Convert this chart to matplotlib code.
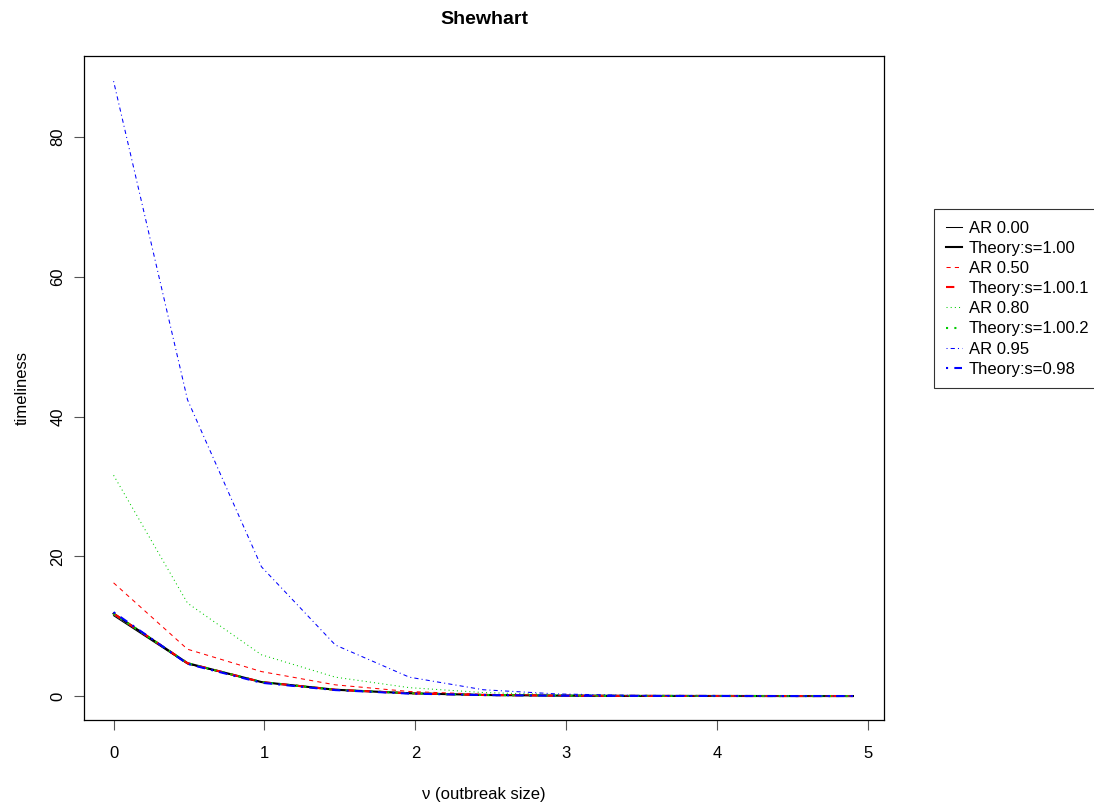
import matplotlib
matplotlib.use("Agg")
import matplotlib.pyplot as plt

plt.rcParams['font.family'] = ['Liberation Sans', 'DejaVu Sans']
plt.rcParams['font.size'] = 12

# outbreak size grid
nu = [0.0, 0.49, 0.98, 1.47, 1.96, 2.45, 2.94, 3.43, 3.92, 4.41, 4.90]

# simulated timeliness for each autoregressive coefficient
ar_000 = [11.5, 4.6, 2.0, 0.9, 0.40, 0.15, 0.06, 0.02, 0.01, 0.0, 0.0]
ar_050 = [16.2, 6.7, 3.5, 1.6, 0.65, 0.25, 0.10, 0.03, 0.01, 0.0, 0.0]
ar_080 = [31.6, 13.3, 5.9, 2.7, 1.2, 0.50, 0.20, 0.07, 0.02, 0.01, 0.0]
ar_095 = [88.0, 42.4, 18.5, 7.3, 2.7, 0.90, 0.30, 0.10, 0.03, 0.01, 0.0]

# theoretical timeliness for the corresponding scale factors
th_100 = [11.8, 4.7, 2.0, 0.9, 0.40, 0.15, 0.06, 0.02, 0.01, 0.0, 0.0]
th_098 = [12.0, 4.6, 1.9, 0.85, 0.35, 0.14, 0.05, 0.02, 0.01, 0.0, 0.0]

labels = ["AR 0.00", "Theory:s=1.00", "AR 0.50", "Theory:s=1.00.1",
          "AR 0.80", "Theory:s=1.00.2", "AR 0.95", "Theory:s=0.98"]

series = [ar_000, th_100, ar_050, th_100, ar_080, th_100, ar_095, th_098]
colors = ["black", "black", "red", "red", "#00CD00", "#00CD00", "blue", "blue"]
styles = ["-", "-", (0, (4, 4)), (0, (4, 4)), (0, (1, 3)), (0, (1, 3)),
          (0, (1, 3, 4, 3)), (0, (1, 3, 4, 3))]
widths = [0.75, 1.5] * 4

fig = plt.figure(figsize=(10.94, 8.05), dpi=100)
ax = fig.add_axes([84 / 1094, 1 - 720 / 805, 800 / 1094, 664 / 805])

for y, c, ls, lw, lab in zip(series, colors, styles, widths, labels):
    ax.plot(nu, y, color=c, linestyle=ls, linewidth=lw, label=lab)

ax.set_xlim(-0.196, 5.106)
ax.set_ylim(-3.43, 91.6)
ax.set_xticks([0, 1, 2, 3, 4, 5])
ax.set_yticks([0, 20, 40, 60, 80])
ax.tick_params(axis='both', direction='out', length=7.5, width=0.8,
               color='#555555', labelsize=12)
ax.tick_params(axis='x', pad=11)
ax.tick_params(axis='y', pad=6)
for lab in ax.get_yticklabels():
    lab.set_rotation(90)
    lab.set_va('center')
for sp in ax.spines.values():
    sp.set_linewidth(0.9)
    sp.set_color('black')

ax.set_title("Shewhart", fontsize=14, fontweight='bold', pad=23)
ax.set_xlabel("\u03bd (outbreak size)", fontsize=12, labelpad=19)
ax.set_ylabel("timeliness", fontsize=12, labelpad=15)

leg = ax.legend(loc='upper left', bbox_to_anchor=(934 / 1094, 1 - 209 / 805),
                bbox_transform=fig.transFigure, fontsize=12, frameon=True,
                fancybox=False, edgecolor='black', borderpad=0.7,
                handlelength=1.0, handletextpad=0.4, labelspacing=0.31,
                borderaxespad=0)
leg.get_frame().set_linewidth(0.8)

fig.savefig("out.png", dpi=100)
